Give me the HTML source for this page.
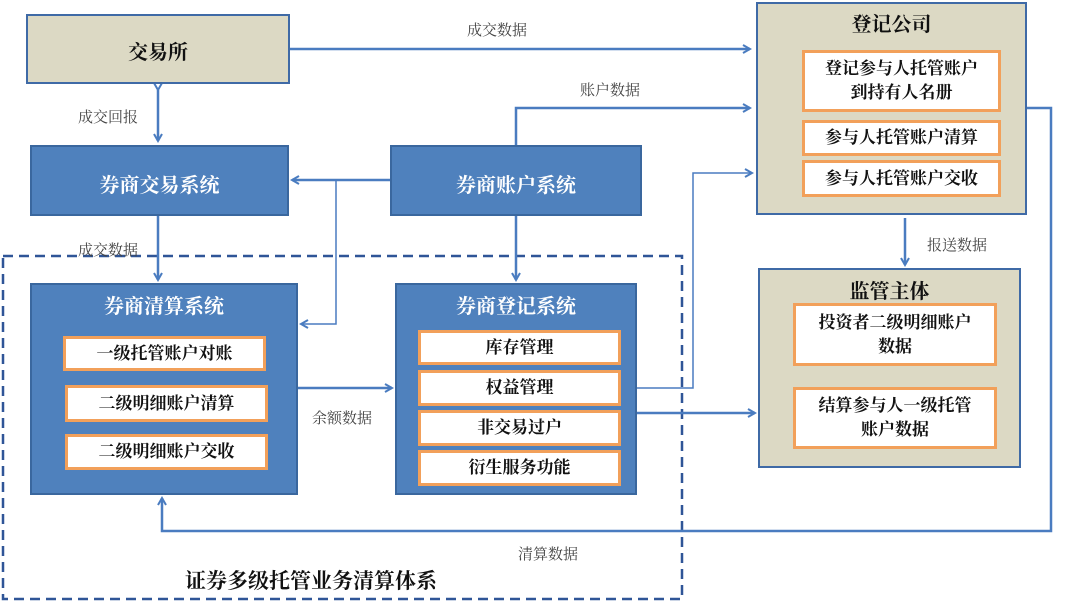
<!DOCTYPE html>
<html><head><meta charset="utf-8"><style>
body{margin:0;width:1080px;height:602px;background:#fff;position:relative;overflow:hidden;font-family:"Liberation Serif","Noto Serif CJK SC","Noto Sans CJK SC",serif;}
.b{position:absolute;box-sizing:border-box;}
.blue{background:#4f81bd;border:2px solid #3a679e;color:#fff;}
.beige{background:#dcd9c4;border:2px solid #3f6aa6;color:#111;}
.in{position:absolute;box-sizing:border-box;background:#fff;border:3px solid #f2a05a;color:#111;font-size:17px;text-align:center;display:flex;align-items:center;justify-content:center;line-height:24px;font-weight:bold;}
.t{position:absolute;font-size:20px;font-weight:bold;text-align:center;left:0;right:0;}
.l{position:absolute;font-size:15px;color:#444;}
</style></head><body>
<svg width="1080" height="602" style="position:absolute;left:0;top:0">
<defs><marker id="a" markerWidth="10" markerHeight="10" refX="8" refY="5" orient="auto" markerUnits="userSpaceOnUse"><path d="M1,1 L8,5 L1,9" fill="none" stroke="#4a7cc0" stroke-width="2"/></marker></defs>
<g stroke="#4a7cc0" stroke-width="2.5" fill="none">
<rect x="3" y="256" width="679" height="343" stroke="#2f5597" stroke-dasharray="10,6" stroke-width="2.5"/>
<path d="M289 49 H750" marker-end="url(#a)"/>
<path d="M158 90 V141" marker-end="url(#a)" marker-start="url(#a)"/>
<path d="M516 145 V108 H750" marker-end="url(#a)"/>
<path d="M390 180 H292" marker-end="url(#a)"/>
<path d="M336 180 V324 H301" stroke-width="1.5" marker-end="url(#a)"/>
<path d="M516 215 V280" marker-end="url(#a)"/>
<path d="M158 215 V280" marker-end="url(#a)"/>
<path d="M297 388 H392" marker-end="url(#a)"/>
<path d="M636 388 H693 V173 H752" stroke-width="1.5" marker-end="url(#a)"/>
<path d="M636 413 H755" marker-end="url(#a)"/>
<path d="M1026 108 H1051 V531 H162 V498" marker-end="url(#a)"/>
<path d="M905 218 V265" marker-end="url(#a)"/>
</g></svg>
<div class="b beige" style="left:26px;top:14px;width:264px;height:70px"><div class="t" style="top:20px">交易所</div></div>
<div class="b blue" style="left:30px;top:145px;width:259px;height:71px"><div class="t" style="top:22px">券商交易系统</div></div>
<div class="b blue" style="left:390px;top:145px;width:252px;height:71px"><div class="t" style="top:22px">券商账户系统</div></div>
<div class="b beige" style="left:756px;top:2px;width:271px;height:213px"><div class="t" style="top:4px">登记公司</div>
<div class="in" style="left:44px;top:46px;width:199px;height:62px">登记参与人托管账户<br>到持有人名册</div>
<div class="in" style="left:44px;top:116px;width:199px;height:36px">参与人托管账户清算</div>
<div class="in" style="left:44px;top:156px;width:199px;height:37px">参与人托管账户交收</div></div>
<div class="b beige" style="left:758px;top:268px;width:263px;height:200px"><div class="t" style="top:5px">监管主体</div>
<div class="in" style="left:33px;top:33px;width:204px;height:63px">投资者二级明细账户<br>数据</div>
<div class="in" style="left:33px;top:117px;width:204px;height:62px">结算参与人一级托管<br>账户数据</div></div>
<div class="b blue" style="left:30px;top:283px;width:268px;height:212px"><div class="t" style="top:5px">券商清算系统</div>
<div class="in" style="left:31px;top:51px;width:203px;height:35px">一级托管账户对账</div>
<div class="in" style="left:33px;top:100px;width:203px;height:37px">二级明细账户清算</div>
<div class="in" style="left:33px;top:149px;width:203px;height:36px">二级明细账户交收</div></div>
<div class="b blue" style="left:395px;top:283px;width:242px;height:212px"><div class="t" style="top:5px">券商登记系统</div>
<div class="in" style="left:21px;top:45px;width:203px;height:35px">库存管理</div>
<div class="in" style="left:21px;top:85px;width:203px;height:36px">权益管理</div>
<div class="in" style="left:21px;top:125px;width:203px;height:36px">非交易过户</div>
<div class="in" style="left:21px;top:165px;width:203px;height:36px">衍生服务功能</div></div>
<div class="l" style="left:467px;top:19px">成交数据</div>
<div class="l" style="left:78px;top:106px">成交回报</div>
<div class="l" style="left:580px;top:79px">账户数据</div>
<div class="l" style="left:78px;top:239px">成交数据</div>
<div class="l" style="left:312px;top:407px">余额数据</div>
<div class="l" style="left:927px;top:234px">报送数据</div>
<div class="l" style="left:518px;top:543px">清算数据</div>
<div style="position:absolute;left:185px;top:565px;font-size:21px;font-weight:bold;color:#111">证券多级托管业务清算体系</div>
</body></html>
